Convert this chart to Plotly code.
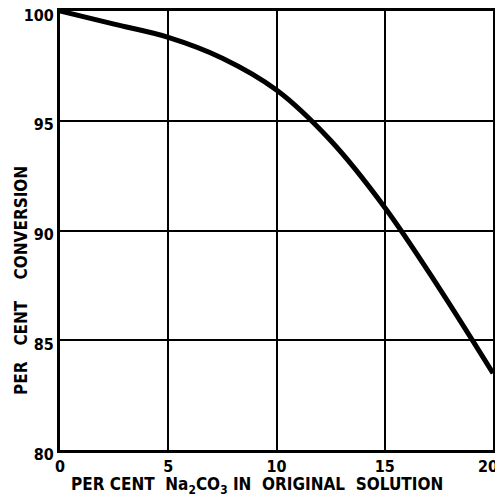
import plotly.graph_objects as go

# per cent Na2CO3 in original solution vs per cent conversion
na2co3_pct = [0, 2.5, 5, 7.5, 10, 12.5, 15, 17.5, 20]
conversion_pct = [100, 99.4, 98.8, 97.85, 96.4, 94.1, 91.05, 87.4, 83.5]

x_ticks = [0, 5, 10, 15, 20]
y_ticks = [80, 85, 90, 95, 100]

TICK_FONT = dict(family="DejaVu Sans Condensed", size=16, color="black", weight="bold")
TITLE_FONT = dict(family="DejaVu Sans Condensed", size=17, color="black", weight="bold")
nb = "\u00a0"

fig = go.Figure()
fig.add_trace(
    go.Scatter(
        x=na2co3_pct,
        y=conversion_pct,
        mode="lines",
        line=dict(color="black", width=5, shape="spline", smoothing=1.0),
        showlegend=False,
    )
)

axis_common = dict(
    showline=True,
    mirror=True,
    linecolor="black",
    linewidth=3,
    showgrid=True,
    gridcolor="black",
    gridwidth=2,
    zeroline=False,
    ticks="",
    tickfont=TICK_FONT,
    ticklabeloverflow="allow",
)

# last x label is nudged left (padding kept by a zero-width char) so it stays on the page
x_ticktext = [str(v) for v in x_ticks]
x_ticktext[-1] = x_ticktext[-1] + nb * 2 + "\u200b"

fig.update_xaxes(range=[0, 20], tickvals=x_ticks, ticktext=x_ticktext, **axis_common)
fig.update_yaxes(range=[80, 100], tickvals=y_ticks,
                 ticktext=[str(v) for v in y_ticks],
                 ticklabelshift=4, **axis_common)

# axis titles as annotations so they sit where the original has them
x_title = (f"PER{nb}CENT{nb}{nb}Na<sub>2</sub>CO<sub>3</sub>{nb}IN{nb}{nb}"
           f"ORIGINAL{nb}{nb}SOLUTION")
fig.add_annotation(
    text=x_title, xref="paper", yref="paper", x=0.455, y=-0.082,
    xanchor="center", yanchor="middle", showarrow=False, font=TITLE_FONT,
)
fig.add_annotation(
    text=f"PER{nb}{nb}{nb}CENT{nb}{nb}{nb}{nb}CONVERSION",
    xref="paper", yref="paper", x=-0.090, y=0.385, textangle=-90,
    xanchor="center", yanchor="middle", showarrow=False, font=TITLE_FONT,
)

# the page body has an 8px margin, so the figure sits 8px in from the corner
fig.update_layout(
    width=487,
    height=489,
    margin=dict(l=52, r=2, t=3, b=47, autoexpand=False),
    paper_bgcolor="white",
    plot_bgcolor="white",
)

fig.write_html("out.html")
